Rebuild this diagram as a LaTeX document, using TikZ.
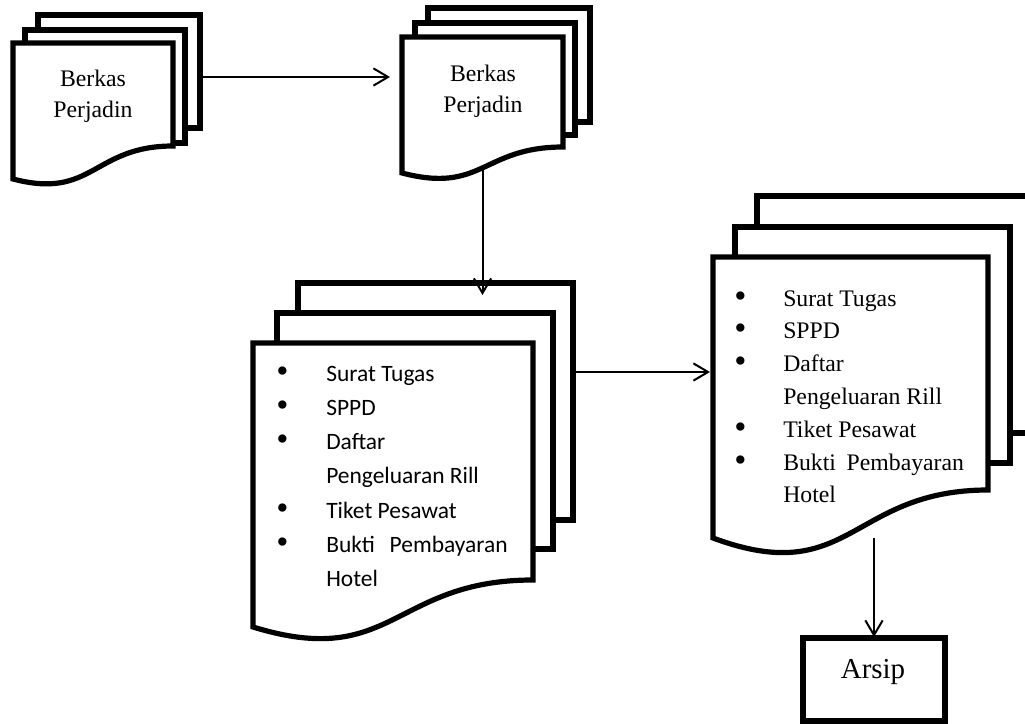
\documentclass[tikz,border=0pt]{standalone}
\usepackage{fontspec}
\setmainfont{Liberation Serif}
\newfontfamily\bodysans{Carlito}
\usetikzlibrary{arrows.meta,calc}

\tikzset{
  sheet/.style={draw, line width=3.9pt, fill=white, rectangle, inner sep=0pt,
    outer sep=0pt, anchor=north west},
  frontbox/.style={rectangle, inner sep=0pt, outer sep=0pt, anchor=north west},
  docline/.style={draw, line width=3.9pt, fill=white, line join=miter},
  flow/.style={line width=1.5pt,
    -{Straight Barb[length=11pt,width=13pt]}},
  titletext/.style={font=\fontsize{17.8}{23}\selectfont, anchor=base, inner sep=0pt},
  listsans/.style={font=\bodysans\fontsize{17.6}{25.7}\selectfont, anchor=base west, inner sep=0pt},
  listserif/.style={font=\fontsize{17.8}{24.6}\selectfont, anchor=base west, inner sep=0pt},
}
% large list bullet
\newcommand\blt{{\rmfamily\fontsize{26}{26}\selectfont\raisebox{-0.8pt}{\textbullet}}}

\begin{document}
\begin{tikzpicture}[x=0.75pt, y=-0.75pt]
\useasboundingbox (0,0) rectangle (1025,724);
\clip (0,0) rectangle (1025,724);

% ---------- Berkas Perjadin (incoming) ----------
\node[sheet, minimum width=121.5pt, minimum height=84.75pt] (Aback) at (38,15) {};
\node[sheet, minimum width=120pt, minimum height=84.75pt] (Amid) at (25,30) {};
\node[frontbox, minimum width=120pt, minimum height=77.25pt] (Afront) at (13,43) {};
\draw[docline] (Afront.north west) -- (Afront.north east) -- (Afront.south east)
  .. controls (Afront.south) and ($(Afront.south)+(0,54)$) .. ($(Afront.south west)+(0,33)$) -- cycle;
\node[titletext] (Atext) at (93,87) {\begin{tabular}[t]{@{}c@{}}Berkas\\Perjadin\end{tabular}};

% ---------- Berkas Perjadin (received) ----------
\node[sheet, minimum width=121.5pt, minimum height=85.5pt] (Bback) at (428,8) {};
\node[sheet, minimum width=120pt, minimum height=84pt] (Bmid) at (415,23) {};
\node[frontbox, minimum width=120.75pt, minimum height=82.5pt] (Bfront) at (402,37) {};
\draw[docline] (Bfront.north west) -- (Bfront.north east) -- (Bfront.south east)
  .. controls (Bfront.south) and ($(Bfront.south)+(0,47)$) .. ($(Bfront.south west)+(0,26)$) -- cycle;
\node[titletext] (Btext) at (483,82) {\begin{tabular}[t]{@{}c@{}}Berkas\\Perjadin\end{tabular}};

% ---------- document set (sorted) ----------
\node[sheet, minimum width=206.25pt, minimum height=177.75pt] (Cback) at (298,283) {};
\node[sheet, minimum width=207pt, minimum height=177pt] (Cmid) at (277,313) {};
\node[frontbox, minimum width=210pt, minimum height=177.75pt] (Cfront) at (253,343) {};
\draw[docline] (Cfront.north west) -- (Cfront.north east) -- (Cfront.south east)
  .. controls (Cfront.south) and ($(Cfront.south)+(0,90)$) .. ($(Cfront.south west)+(0,47)$) -- cycle;
\node[listsans] (Clist) at (276,381) {%
  \begin{tabular}[t]{@{}p{37.5pt}@{}l@{}}
  \blt & Surat Tugas\\
  \blt & SPPD\\
  \blt & Daftar\\
       & Pengeluaran Rill\\
  \blt & Tiket Pesawat\\
  \blt & Bukti\hspace{11pt}Pembayaran\\
       & Hotel
  \end{tabular}};

% ---------- document set (archived copy) ----------
\node[sheet, minimum width=206.25pt, minimum height=177.75pt] (Dback) at (757,196) {};
\node[sheet, minimum width=206.25pt, minimum height=177pt] (Dmid) at (735,227) {};
\node[frontbox, minimum width=206.25pt, minimum height=174.75pt] (Dfront) at (713,257) {};
\draw[docline] (Dfront.north west) -- (Dfront.north east) -- (Dfront.south east)
  .. controls (Dfront.south) and ($(Dfront.south)+(0,99)$) .. ($(Dfront.south west)+(0,48)$) -- cycle;
\node[listserif] (Dlist) at (734,306) {%
  \begin{tabular}[t]{@{}p{36.75pt}@{}l@{}}
  \blt & Surat Tugas\\
  \blt & SPPD\\
  \blt & Daftar\\
       & Pengeluaran Rill\\
  \blt & Tiket Pesawat\\
  \blt & Bukti\hspace{8pt}Pembayaran\\
       & Hotel
  \end{tabular}};

% ---------- archive ----------
\node[sheet, minimum width=106.5pt, minimum height=62.25pt] (arsip) at (803,638) {};
\node[font=\fontsize{21.7}{26}\selectfont, anchor=base, inner sep=0pt] (arsiptext) at (873,678) {Arsip};

% ---------- flow ----------
\draw[flow, shorten >=9pt] ([yshift=-4.125pt]Aback.east) -- ([yshift=-4.125pt]Aback.east -| Bfront.west);
\draw[flow, shorten >=6.75pt] ([yshift=-15.75pt]Bfront.south) -- ([yshift=-15.75pt]Bfront.south |- Cback.north);
\draw[flow, shorten >=2.25pt] ([yshift=22.125pt]Cback.east) -- ([yshift=22.125pt]Cback.east -| Dfront.west);
\draw[flow, shorten >=0.75pt] ([yshift=-36pt]Dfront.south -| arsip.north) -- (arsip.north);
\end{tikzpicture}
\end{document}
